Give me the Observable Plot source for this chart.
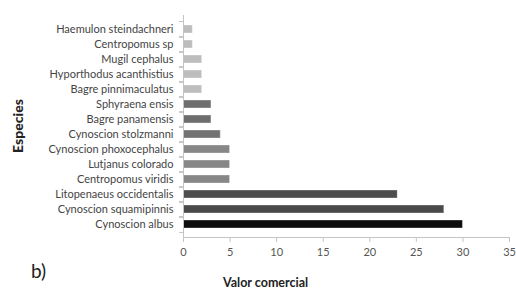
<!DOCTYPE html>
<html>
<head>
<meta charset="utf-8">
<script src="https://cdn.jsdelivr.net/npm/d3@7"></script>
<script src="https://cdn.jsdelivr.net/npm/@observablehq/plot@0.6"></script>
<style>
  html, body { margin: 0; padding: 0; background: #fff; }
  #chart { position: relative; width: 516px; height: 293px; }
  #chart svg { position: absolute; left: 0; top: 0; }
  .lab { position: absolute; font-family: Lato, sans-serif; color: #222; }
</style>
</head>
<body>
<div id="chart"></div>
<script>
const species = [
  "Haemulon steindachneri",
  "Centropomus sp",
  "Mugil cephalus",
  "Hyporthodus acanthistius",
  "Bagre pinnimaculatus",
  "Sphyraena ensis",
  "Bagre panamensis",
  "Cynoscion stolzmanni",
  "Cynoscion phoxocephalus",
  "Lutjanus colorado",
  "Centropomus viridis",
  "Litopenaeus occidentalis",
  "Cynoscion squamipinnis",
  "Cynoscion albus"
];
const valores = [1, 1, 2, 2, 2, 3, 3, 4, 5, 5, 5, 23, 28, 30];
const xTicks = [0, 5, 10, 15, 20, 25, 30, 35];

const data = species.map((s, i) => ({especie: s, valor: valores[i]}));

// shades per species (style, kept apart from data)
const shade = [
  "#bdbdbd", "#bdbdbd", "#bdbdbd", "#bdbdbd", "#bdbdbd",
  "#6e6e6e", "#6e6e6e", "#727272",
  "#878787", "#878787", "#878787",
  "#4d4d4d", "#4a4a4a", "#0d0d0d"
];

const H = 293, W = 516;
const mt = 15, mb = 56;
const step = (H - mt - mb) / species.length;

const chart = Plot.plot({
  width: W,
  height: H,
  marginLeft: 183,
  marginRight: 7,
  marginTop: mt,
  marginBottom: mb,
  style: {fontFamily: "Lato, sans-serif", fontSize: "11px", background: "#fff"},
  x: {domain: [0, 35]},
  y: {domain: species, padding: 0.5, align: 0.5},
  color: {type: "ordinal", domain: species, range: shade},
  marks: [
    Plot.barX(data, {
      y: "especie", x: "valor", fill: "especie",
      stroke: "#ffffff", strokeOpacity: 0.35, strokeWidth: 1
    }),
    Plot.ruleX([0], {stroke: "#c4c4c4", strokeWidth: 1}),
    Plot.axisY({
      tickSize: 0, tickPadding: 10, label: null, fill: "#444", fontSize: 11
    }),
    Plot.axisY({
      tickSize: 4, tickFormat: () => "", label: null, stroke: "#c4c4c4", dy: -step / 2
    }),
    Plot.axisY({
      tickSize: 4, tickFormat: () => "", label: null, stroke: "#c4c4c4", dy: step / 2
    }),
    Plot.axisX({
      ticks: xTicks, tickSize: 5, tickPadding: 6, label: null, fill: "#555", stroke: "#c4c4c4", fontSize: 11
    }),
    Plot.frame({anchor: "bottom", stroke: "#c4c4c4"})
  ]
});

const root = document.getElementById("chart");
root.appendChild(chart);

const b = document.createElement("div");
b.className = "lab";
b.textContent = "b)";
b.style.cssText = "left:31px;top:259px;font-size:19px;";
root.appendChild(b);

const xl = document.createElement("div");
xl.className = "lab";
xl.textContent = "Valor comercial";
xl.style.cssText = "left:223px;top:275px;font-size:12.5px;font-weight:bold;";
root.appendChild(xl);

const yl = document.createElement("div");
yl.className = "lab";
yl.textContent = "Especies";
yl.style.cssText = "left:17px;top:126px;font-size:14px;font-weight:900;transform:translate(-50%,-50%) rotate(-90deg);white-space:nowrap;";
root.appendChild(yl);
</script>
</body>
</html>
